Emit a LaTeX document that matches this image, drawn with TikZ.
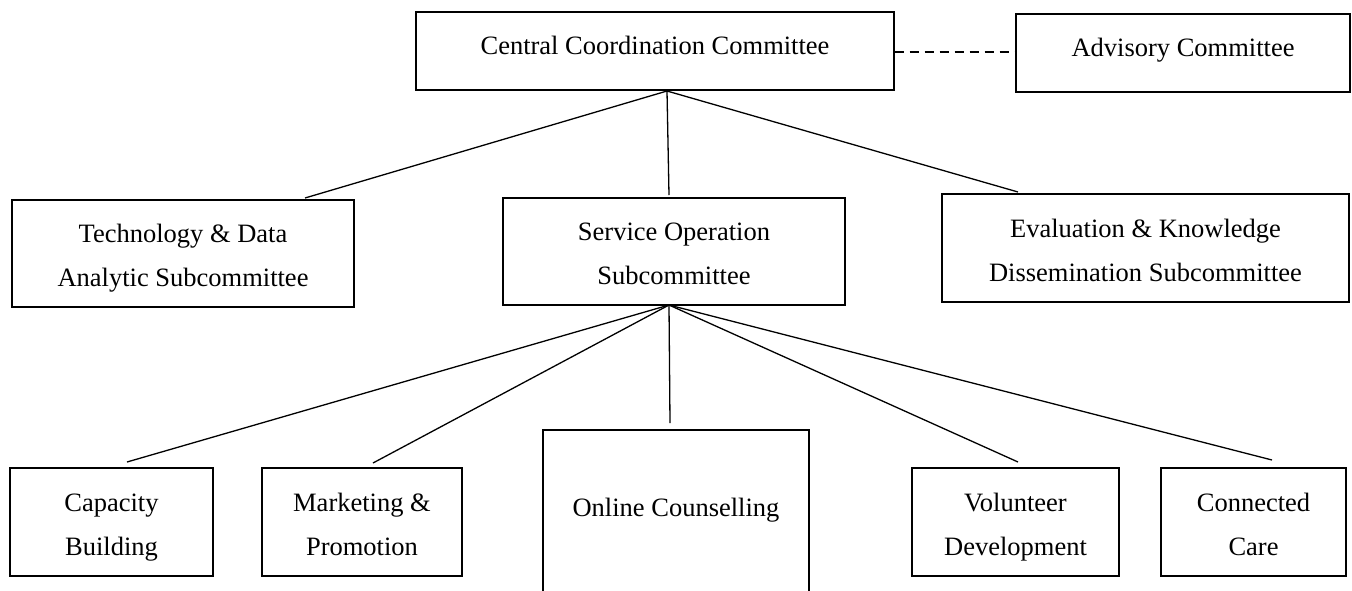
\documentclass[tikz,border=0pt]{standalone}
\usepackage{fontspec}
\setmainfont{Liberation Serif}
\newcommand{\ls}{\rule[-8pt]{0pt}{38pt}}
\begin{document}
\begin{tikzpicture}[x=1pt,y=-1pt,
  box/.style={draw, line width=1.3pt, inner sep=0pt, align=center,
    font=\fontsize{26.5}{44}\selectfont},
  link/.style={line width=1.3pt},
  dashlink/.style={line width=1.8pt, dash pattern=on 9pt off 6pt}]
\useasboundingbox (0,0) rectangle (1352,590);
\clip (0,0) rectangle (1352,590);
% top row
\node[box, minimum width=478pt, minimum height=78pt] (cc) at (655,51)
  {\raisebox{6pt}[\height][\depth]{Central Coordination Committee}};
\node[box, minimum width=334pt, minimum height=78pt] (adv) at (1183,53)
  {\raisebox{3pt}[\height][\depth]{Advisory Committee}};
% middle row
\node[box, minimum width=342pt, minimum height=107pt] (tech) at (183,253.5)
  {\ls Technology \& Data\\\ls Analytic Subcommittee};
\node[box, minimum width=342pt, minimum height=107pt] (svc) at (674,251.5)
  {\ls Service Operation\\\ls Subcommittee};
\node[box, minimum width=407pt, minimum height=108pt] (eval) at (1145.5,248)
  {\ls Evaluation \& Knowledge\\\ls Dissemination Subcommittee};
% bottom row
\node[box, minimum width=203pt, minimum height=108pt] (cap) at (111.5,522)
  {\ls Capacity\\\ls Building};
\node[box, minimum width=200pt, minimum height=108pt] (mkt) at (362,522)
  {\ls Marketing \&\\\ls Promotion};
\node[box, minimum width=266pt, minimum height=170pt] (onl) at (676,515)
  {\raisebox{5pt}[\height][\depth]{Online Counselling}};
\node[box, minimum width=207pt, minimum height=108pt] (vol) at (1015.5,522)
  {\ls Volunteer\\\ls Development};
\node[box, minimum width=185pt, minimum height=108pt] (con) at (1253.5,522)
  {\ls Connected\\\ls Care};
% connector end points
\coordinate (ccb) at (667,91);
\coordinate (techt) at (305,198);
\coordinate (svct) at (669,195);
\coordinate (evalt) at (1018,192);
\coordinate (svcb) at (669,305);
\coordinate (capt) at (127,462);
\coordinate (mktt) at (373,463);
\coordinate (onlt) at (670,423);
\coordinate (volt) at (1018,462);
\coordinate (cont) at (1272,460);
% connectors
\draw[dashlink] (cc.east |- 0,52) -- (adv.west |- 0,52);
\draw[link] (ccb) -- (techt);
\draw[link] (ccb) -- (svct);
\draw[link] (ccb) -- (evalt);
\draw[link] (svcb) -- (capt);
\draw[link] (svcb) -- (mktt);
\draw[link] (svcb) -- (onlt);
\draw[link] (svcb) -- (volt);
\draw[link] (svcb) -- (cont);
\end{tikzpicture}
\end{document}
